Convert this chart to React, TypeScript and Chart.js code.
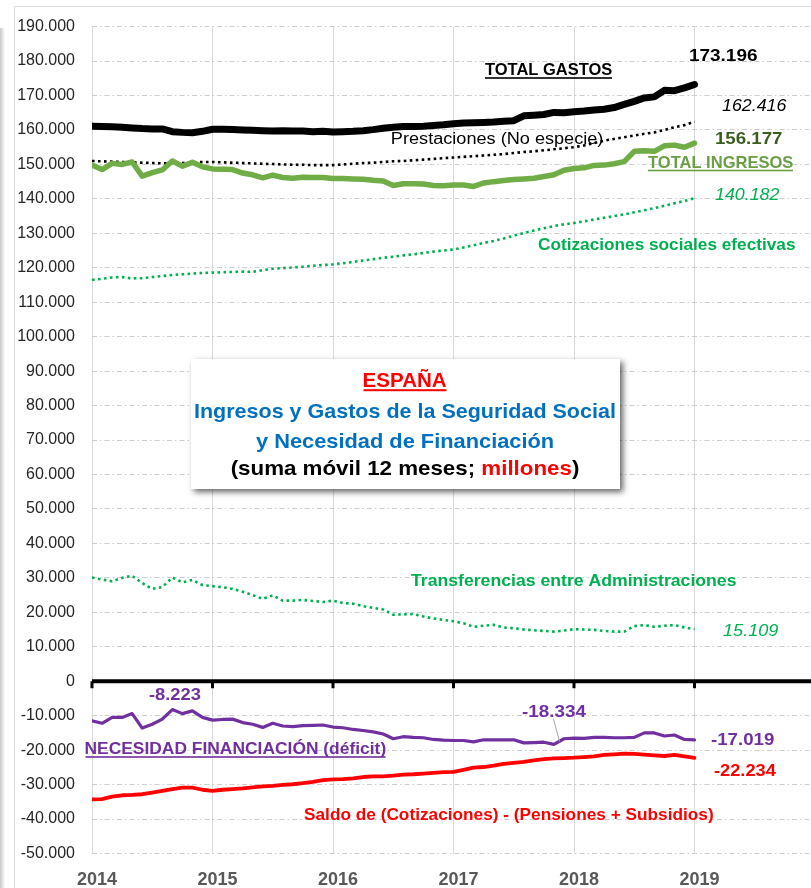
import React, { useEffect, useRef } from 'react';
import { Chart, registerables } from 'chart.js';

Chart.register(...registerables);

// ---- data (values in thousands of millions €; one point per month, Jan-2014 .. Jan-2019) ----
const YEAR_LABELS = ['2014', '2015', '2016', '2017', '2018', '2019', ''];
const Y_MIN = -50;
const Y_MAX = 190;
const Y_STEP = 10;

const TOTAL_GASTOS = [
  161.1, 161.0, 160.9, 160.8, 160.6, 160.4, 160.3, 160.3, 159.5, 159.3, 159.2, 159.6,
  160.2, 160.2, 160.1, 160.0, 159.9, 159.8, 159.7, 159.8, 159.7, 159.7, 159.5, 159.6,
  159.4, 159.5, 159.6, 159.8, 160.1, 160.5, 160.8, 161.0, 161.0, 161.1, 161.3, 161.5,
  161.8, 162.0, 162.1, 162.2, 162.3, 162.5, 162.7, 164.1, 164.3, 164.5, 165.1, 165.0,
  165.3, 165.5, 165.8, 166.0, 166.5, 167.4, 168.3, 169.3, 169.6, 171.5, 171.4, 172.2,
  173.196,
];

const TOTAL_INGRESOS = [
  149.8, 148.5, 150.3, 150.0, 150.7, 146.6, 147.6, 148.4, 151.0, 149.5, 150.6, 149.3,
  148.7, 148.6, 148.5, 147.5, 147.0, 146.1, 146.9, 146.2, 146.0, 146.3, 146.2, 146.2,
  145.9, 145.9, 145.8, 145.7, 145.4, 145.2, 143.9, 144.4, 144.4, 144.3, 143.9, 143.8,
  144.0, 144.0, 143.6, 144.6, 145.0, 145.3, 145.6, 145.8, 146.0, 146.5, 147.0, 148.3,
  148.8, 149.0, 149.7, 149.8, 150.2, 150.8, 153.8, 154.0, 153.8, 155.4, 155.6, 155.0,
  156.177,
];

const PRESTACIONES = [
  151.0, 150.9, 150.8, 150.7, 150.6, 150.5, 150.4, 150.3, 150.3, 150.4, 150.6, 150.7,
  150.7, 150.6, 150.5, 150.4, 150.3, 150.2, 150.1, 150.0, 149.9, 149.9, 149.8, 149.8,
  149.8, 150.0, 150.2, 150.4, 150.5, 150.7, 150.9, 151.0, 151.2, 151.4, 151.6, 151.8,
  152.0, 152.2, 152.4, 152.6, 152.8, 153.0, 153.3, 153.6, 153.8, 154.1, 154.4, 154.7,
  155.0, 155.5, 156.2, 156.9, 157.4, 157.9, 158.4, 158.9, 159.3, 160.0, 160.8, 161.4,
  162.416,
];

const COTIZACIONES = [
  116.5, 116.8, 117.2, 117.3, 116.9, 117.0, 117.3, 117.6, 117.9, 118.1, 118.3, 118.5,
  118.6, 118.7, 118.8, 118.9, 118.8, 119.3, 119.7, 119.9, 120.1, 120.3, 120.6, 120.8,
  121.0, 121.3, 121.7, 122.1, 122.5, 122.9, 123.2, 123.6, 123.9, 124.3, 124.7, 125.0,
  125.3, 125.9, 126.5, 127.2, 127.8, 128.5, 129.3, 130.1, 130.8, 131.5, 132.1, 132.6,
  133.0, 133.5, 134.0, 134.5, 135.0, 135.5, 136.1, 136.7, 137.3, 138.0, 138.7, 139.4,
  140.182,
];

const TRANSFERENCIAS = [
  30.1, 29.5, 29.0, 30.0, 30.6, 28.5, 26.8, 27.3, 30.1, 28.7, 29.4, 27.9,
  27.6, 27.3, 26.8, 26.0, 25.0, 23.9, 24.9, 23.4, 23.4, 23.6, 23.3, 23.0,
  23.4, 22.7, 22.5, 21.8, 21.3, 20.8, 19.3, 19.4, 19.5, 18.8, 18.2, 17.8,
  17.4, 16.8, 15.8, 16.1, 16.4, 15.6, 15.4, 15.0, 14.8, 14.6, 14.4, 14.7,
  15.1, 15.0, 14.9, 14.6, 14.4, 14.4, 16.0, 16.3, 15.8, 16.1, 16.3, 15.6,
  15.109,
];

const NECESIDAD = [
  -11.5, -12.2, -10.5, -10.5, -9.4, -13.6, -12.5, -11.0, -8.223, -9.4, -8.6, -10.5,
  -11.3, -11.1, -11.0, -12.0, -12.5, -13.4, -12.2, -13.0, -13.2, -12.9, -12.8, -12.7,
  -13.3, -13.5, -14.0, -14.3, -14.7, -15.3, -16.7, -16.1, -16.3, -16.4, -16.9, -17.1,
  -17.2, -17.2, -17.6, -17.0, -17.0, -17.0, -17.0, -17.9, -17.8, -17.7, -18.334, -16.7,
  -16.5, -16.6, -16.3, -16.3, -16.4, -16.4, -16.3, -15.0, -15.0, -15.9, -15.6, -16.9,
  -17.019,
];

const SALDO = [
  -34.3, -34.2, -33.5, -33.1, -33.0, -32.8, -32.3, -31.8, -31.3, -30.9, -30.9, -31.5,
  -31.8, -31.5, -31.3, -31.1, -30.8, -30.5, -30.4, -30.1, -29.9, -29.6, -29.2, -28.7,
  -28.5, -28.4, -28.2, -27.8, -27.6, -27.6, -27.4, -27.1, -27.0, -26.8, -26.6, -26.4,
  -26.3, -25.7, -25.1, -24.9, -24.5, -24.0, -23.7, -23.4, -23.0, -22.6, -22.4, -22.3,
  -22.2, -22.0, -21.8, -21.4, -21.2, -21.0, -21.1, -21.3, -21.5, -21.7, -21.4, -21.8,
  -22.234,
];

const FONT = "'Liberation Sans', Arial, sans-serif";

type Lbl = { t: string; l: number; r: number; b: number; f: string; c: string; u?: boolean };

const LABELS: Lbl[] = [
  { t: 'TOTAL GASTOS', l: 485, r: 612, b: 75, f: 'bold 17px', c: '#000000', u: true },
  { t: '173.196', l: 690, r: 757, b: 61, f: 'bold 17px', c: '#000000' },
  { t: '162.416', l: 722, r: 787, b: 111, f: 'italic 17px', c: '#000000' },
  { t: 'Prestaciones (No especie)', l: 392, r: 603, b: 143.5, f: '16px', c: '#000000' },
  { t: '156.177', l: 716, r: 782, b: 144, f: 'bold 17px', c: '#3B5E1F' },
  { t: 'TOTAL INGRESOS', l: 648, r: 793, b: 167.5, f: 'bold 17px', c: '#6A9F45', u: true },
  { t: '140.182', l: 715, r: 780, b: 200, f: 'italic 17px', c: '#00B050' },
  { t: 'Cotizaciones sociales efectivas', l: 538, r: 795, b: 250, f: 'bold 17px', c: '#00B050' },
  { t: 'Transferencias entre Administraciones', l: 411, r: 736, b: 585.5, f: 'bold 17px', c: '#00B050' },
  { t: '15.109', l: 723, r: 779, b: 636, f: 'italic 17px', c: '#00B050' },
  { t: '-8.223', l: 149, r: 201, b: 699.5, f: 'bold 16px', c: '#7030A0' },
  { t: '-18.334', l: 522, r: 586, b: 717, f: 'bold 16px', c: '#7030A0' },
  { t: '-17.019', l: 711, r: 774.5, b: 745, f: 'bold 16px', c: '#7030A0' },
  { t: 'NECESIDAD FINANCIACIÓN (déficit)', l: 85.5, r: 385.5, b: 754, f: 'bold 17px', c: '#7030A0', u: true },
  { t: '-22.234', l: 714, r: 776, b: 775.5, f: 'bold 16px', c: '#FF0000' },
  { t: 'Saldo de (Cotizaciones) - (Pensiones + Subsidios)', l: 304, r: 713, b: 819.5, f: 'bold 17px', c: '#FF0000' },
];

const TITLE_LINES: { segs: [string, string][]; l: number; r: number; b: number; u?: boolean }[] = [
  { segs: [['ESPAÑA', '#FF0000']], l: 363.5, r: 446.5, b: 386.7, u: true },
  { segs: [['Ingresos y Gastos de la Seguridad Social', '#0070C0']], l: 195, r: 615, b: 418.3 },
  { segs: [['y Necesidad de Financiación', '#0070C0']], l: 256, r: 553.3, b: 448.3 },
  { segs: [['(suma móvil 12 meses; ', '#000000'], ['millones', '#FF0000'], [')', '#000000']], l: 231.7, r: 578.3, b: 475 },
];

function drawFitted(ctx: CanvasRenderingContext2D, segs: [string, string][], l: number, r: number, b: number, font: string) {
  ctx.save();
  ctx.font = font;
  ctx.textBaseline = 'alphabetic';
  ctx.textAlign = 'left';
  const full = segs.map((s) => s[0]).join('');
  const m = ctx.measureText(full);
  const ink = m.actualBoundingBoxRight + m.actualBoundingBoxLeft;
  const sx = (r - l) / ink;
  ctx.translate(l + m.actualBoundingBoxLeft * sx, b);
  ctx.scale(sx, 1);
  let x = 0;
  for (const [t, c] of segs) {
    ctx.fillStyle = c;
    ctx.fillText(t, x, 0);
    x += ctx.measureText(t).width;
  }
  ctx.restore();
}

const overlayPlugin = {
  id: 'overlay',
  beforeDraw(chart: any) {
    const { ctx } = chart;
    ctx.save();
    ctx.fillStyle = '#ffffff';
    ctx.fillRect(0, 0, chart.width, chart.height);
    // outer frame
    ctx.strokeStyle = '#d9d9d9';
    ctx.lineWidth = 1;
    ctx.beginPath();
    ctx.moveTo(14.5, 888);
    ctx.lineTo(14.5, 6.5);
    ctx.lineTo(chart.width, 6.5);
    ctx.stroke();
    const g = ctx.createLinearGradient(0, 0, 5, 0);
    g.addColorStop(0, '#c8c8c8');
    g.addColorStop(1, '#ffffff');
    ctx.fillStyle = g;
    ctx.fillRect(0, 28, 5, 860);
    ctx.restore();
  },
  beforeDatasetsDraw(chart: any) {
    const { ctx, chartArea, scales } = chart;
    const x = scales.x;
    const y = scales.y;
    const y0 = y.getPixelForValue(0);
    ctx.save();
    ctx.strokeStyle = '#000000';
    ctx.lineWidth = 4;
    ctx.beginPath();
    ctx.moveTo(chartArea.left, y0);
    ctx.lineTo(chartArea.right, y0);
    ctx.stroke();
    ctx.lineWidth = 3;
    x.ticks.forEach((t: any) => {
      const px = x.getPixelForValue(t.value);
      ctx.beginPath();
      ctx.moveTo(px, y0);
      ctx.lineTo(px, y0 + 7);
      ctx.stroke();
    });
    ctx.restore();
  },
  afterDraw(chart: any) {
    const { ctx } = chart;
    // leader line for -18.334
    ctx.save();
    ctx.strokeStyle = '#a6a6a6';
    ctx.lineWidth = 1;
    ctx.beginPath();
    ctx.moveTo(553.5, 719);
    ctx.lineTo(559.5, 741.5);
    ctx.stroke();
    ctx.restore();

    for (const L of LABELS) {
      drawFitted(ctx, [[L.t, L.c]], L.l, L.r, L.b, `${L.f} ${FONT}`);
      if (L.u) {
        ctx.save();
        ctx.fillStyle = L.c;
        ctx.fillRect(L.l, L.b + 2.2, L.r - L.l, 1.6);
        ctx.restore();
      }
    }

    // title box
    const bx = 191, by = 359, bw = 429, bh = 130;
    ctx.save();
    ctx.shadowColor = 'rgba(0,0,0,0.6)';
    ctx.shadowBlur = 6;
    ctx.shadowOffsetX = 3;
    ctx.shadowOffsetY = 3;
    ctx.fillStyle = '#ffffff';
    ctx.fillRect(bx, by, bw, bh);
    ctx.restore();
    for (const T of TITLE_LINES) {
      drawFitted(ctx, T.segs, T.l, T.r, T.b, `bold 21px ${FONT}`);
      if (T.u) {
        ctx.save();
        ctx.fillStyle = T.segs[0][1];
        ctx.fillRect(T.l, T.b + 2.5, T.r - T.l, 2);
        ctx.restore();
      }
    }
  },
};

const pts = (arr: number[]) => arr.map((v, i) => ({ x: i, y: v }));

export default function App() {
  const ref = useRef<HTMLCanvasElement | null>(null);
  useEffect(() => {
    if (!ref.current) return;
    const line = (data: number[], color: string, width: number, dash: number[] = []) => ({
      data: pts(data),
      borderColor: color,
      backgroundColor: color,
      borderWidth: width,
      borderDash: dash,
      borderCapStyle: dash.length ? 'butt' : 'round',
      borderJoinStyle: 'round',
      pointRadius: 0,
      tension: 0,
      fill: false,
    });
    const chart = new Chart(ref.current, {
      type: 'line',
      data: {
        datasets: [
          { label: 'TOTAL GASTOS', ...line(TOTAL_GASTOS, '#000000', 7) },
          { label: 'TOTAL INGRESOS', ...line(TOTAL_INGRESOS, '#70AD47', 5.5) },
          { label: 'Prestaciones (No especie)', ...line(PRESTACIONES, '#000000', 2.6, [2.6, 3.4]) },
          { label: 'Cotizaciones sociales efectivas', ...line(COTIZACIONES, '#00B050', 2.6, [2.6, 3.4]) },
          { label: 'Transferencias entre Administraciones', ...line(TRANSFERENCIAS, '#00B050', 2.6, [2.6, 3.4]) },
          { label: 'NECESIDAD FINANCIACIÓN (déficit)', ...line(NECESIDAD, '#7030A0', 3.2) },
          { label: 'Saldo de (Cotizaciones) - (Pensiones + Subsidios)', ...line(SALDO, '#FF0000', 3.8) },
        ] as any,
      },
      options: {
        responsive: false,
        animation: false,
        devicePixelRatio: 1,
        layout: { padding: { top: 19, right: 0, bottom: 0, left: 0 } },
        plugins: { legend: { display: false }, tooltip: { enabled: false } },
        scales: {
          x: {
            type: 'linear',
            min: 0,
            max: 72,
            afterFit: (s: any) => { s.height = 34.5; },
            grid: { color: '#d9d9d9', lineWidth: 1, drawTicks: false },
            border: { display: false },
            ticks: {
              stepSize: 12,
              padding: 16,
              labelOffset: 5,
              autoSkip: false,
              maxRotation: 0,
              color: '#595959',
              font: { family: FONT, size: 18, weight: 'bold' },
              callback: (v: any) => YEAR_LABELS[Math.round(Number(v) / 12)] ?? '',
            },
          },
          y: {
            type: 'linear',
            min: Y_MIN,
            max: Y_MAX,
            afterFit: (s: any) => { s.width = 92; },
            grid: {
              color: (c: any) => (c.tick && c.tick.value === 0 ? 'rgba(0,0,0,0)' : '#cdcdcd'),
              lineWidth: 1,
              drawTicks: false,
            },
            border: { display: false, dash: [5, 3, 1.5, 3] },
            ticks: {
              stepSize: Y_STEP,
              padding: 17,
              color: '#262626',
              font: { family: FONT, size: 16 },
              callback: (v: any) => (Number(v) === 0 ? '0' : `${Number(v)}.000`),
            },
          },
        },
      } as any,
      plugins: [overlayPlugin],
    });
    return () => chart.destroy();
  }, []);

  return (
    <div style={{ position: 'absolute', left: 0, top: 0, width: 811, height: 888, overflow: 'hidden', background: '#fff' }}>
      <canvas ref={ref} width={831} height={888} style={{ display: 'block', width: 831, height: 888 }} />
    </div>
  );
}
